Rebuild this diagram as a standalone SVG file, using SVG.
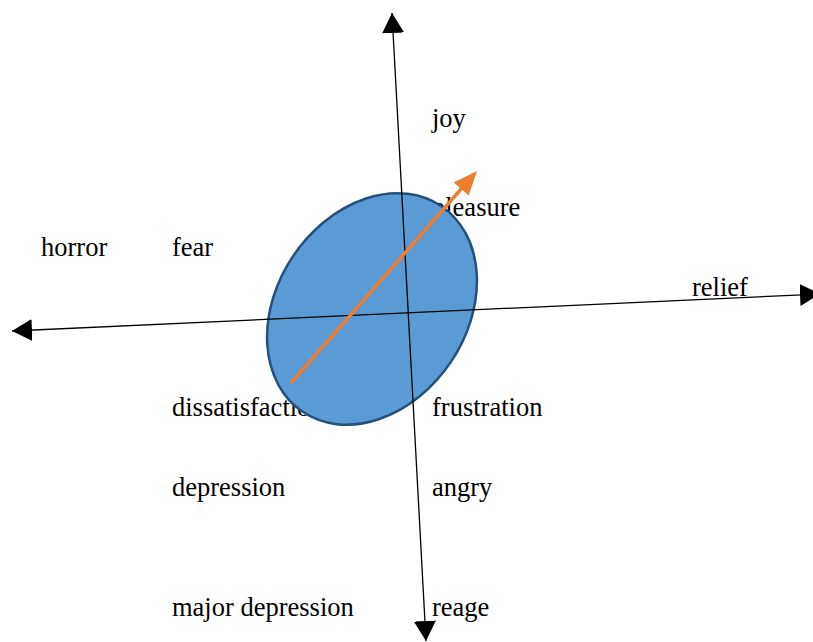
<svg xmlns="http://www.w3.org/2000/svg" width="813" height="642" viewBox="0 0 813 642">
<style>
.t{font-family:"Liberation Serif","Times New Roman",serif;font-size:26.5px;fill:#000}
.ax{stroke:#000;stroke-width:1.3;fill:none}
</style>
<defs>
<marker id="ah" markerUnits="userSpaceOnUse" viewBox="0 0 20 22" refX="20" refY="11" markerWidth="20" markerHeight="22" orient="auto-start-reverse">
<path d="M0,0 L20,11 L0,22 z" fill="#000"/>
</marker>
</defs>
<rect width="813" height="642" fill="#fff"/>
<g id="labels">
<text class="t" x="41" y="256">horror</text>
<text class="t" x="172" y="256">fear</text>
<text class="t" x="432" y="127">joy</text>
<text class="t" x="432" y="216">pleasure</text>
<text class="t" x="692" y="296">relief</text>
<text class="t" x="172" y="416">dissatisfaction</text>
<text class="t" x="432" y="416">frustration</text>
<text class="t" x="172" y="496">depression</text>
<text class="t" x="432" y="496">angry</text>
<text class="t" x="172" y="616">major depression</text>
<text class="t" x="432" y="616">reage</text>
</g>
<g id="ellipse">
<ellipse cx="372" cy="309" rx="124" ry="95" transform="rotate(-56 372 309)" fill="#5B9BD5" stroke="#24507E" stroke-width="2.5"/>
</g>
<g id="connectors">
<line class="ax" x1="392" y1="13" x2="426" y2="641" marker-start="url(#ah)" marker-end="url(#ah)"/>
<line class="ax" x1="12" y1="331" x2="820" y2="294" marker-start="url(#ah)" marker-end="url(#ah)"/>
<line x1="291" y1="383" x2="462" y2="188" stroke="#ED7D31" stroke-width="3.5"/>
<polygon points="477,171 468.7,195.6 453.7,182.4" fill="#ED7D31"/>
</g>
</svg>
